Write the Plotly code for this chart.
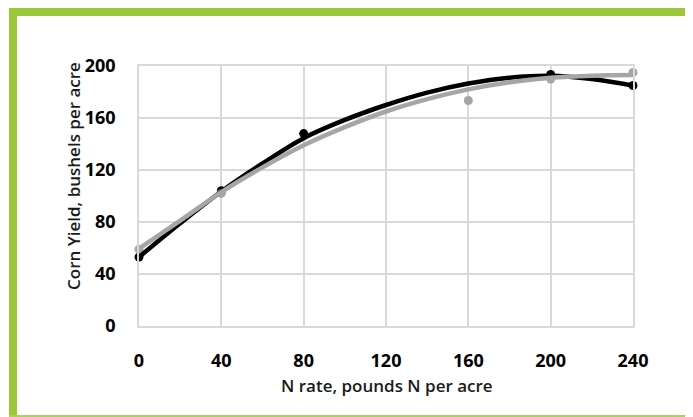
import plotly.graph_objects as go

# Observed (visible) data points
rate_black = [0, 40, 80, 200, 240]
yield_black = [53, 104, 148, 193.5, 185]
rate_gray = [0, 40, 160, 200, 240]
yield_gray = [59, 102, 173.5, 190, 195]

# Trendline shapes
curve_x = [0, 20, 40, 60, 80, 100, 120, 140, 160, 180, 200, 220, 240]
curve_black = [53, 79, 103.5, 125, 144.5, 158.5, 170, 179.5, 186.5, 191, 192.5, 190, 185]
curve_gray = [59.5, 81, 103, 122, 139, 153, 165, 174.5, 182, 187.5, 191, 192.5, 193]

x_ticks = [0, 40, 80, 120, 160, 200, 240]
y_ticks = [0, 40, 80, 120, 160, 200]

BLACK = "#000000"
GRAY = "#a6a6a6"
GREEN = "#9bc93b"
GREEN_THIN = "#a9d35a"
GRID = "#d9d9d9"

OFF = 8  # page body margin
W, H = 693 - OFF, 417 - OFF
L, R, T, B = 139 - OFF, 633 - OFF, 66 - OFF, 326 - OFF

def px(x):  # page pixel -> paper
    return (x - OFF - L) / (R - L)

def py(y):
    return (B - (y - OFF)) / (B - T)

fig = go.Figure()
fig.add_trace(go.Scatter(x=rate_black, y=yield_black, mode="markers",
                         marker=dict(color=BLACK, size=9), cliponaxis=False, showlegend=False))
fig.add_trace(go.Scatter(x=rate_gray, y=yield_gray, mode="markers",
                         marker=dict(color=GRAY, size=9), cliponaxis=False, showlegend=False))
fig.add_trace(go.Scatter(x=curve_x, y=curve_black, mode="lines", line=dict(color=BLACK, width=4.5, shape="spline"),
                         cliponaxis=False, showlegend=False))
fig.add_trace(go.Scatter(x=curve_x, y=curve_gray, mode="lines", line=dict(color=GRAY, width=4.5, shape="spline"),
                         cliponaxis=False, showlegend=False))

tickfont = dict(family="Open Sans", size=18, color="#000000", weight="bold")
titlefont = dict(family="Open Sans", size=17, color="#1a1a1a", weight=600)

fig.update_xaxes(range=[0, 240], tickvals=x_ticks, showgrid=True, gridcolor=GRID, gridwidth=1.5,
                 showline=True, linecolor=GRID, linewidth=1.5, mirror=True, zeroline=False,
                 ticks="", ticklabelstandoff=18, tickfont=tickfont, fixedrange=True)
fig.update_yaxes(range=[0, 200], tickvals=y_ticks, showgrid=True, gridcolor=GRID, gridwidth=1.5,
                 showline=True, linecolor=GRID, linewidth=1.5, mirror=True, zeroline=False,
                 ticks="", ticklabelstandoff=18, tickfont=tickfont, fixedrange=True)

fig.add_annotation(text="N rate, pounds N per acre", xref="paper", yref="paper",
                   x=px(387), y=py(385), showarrow=False, font=titlefont,
                   xanchor="center", yanchor="middle")
fig.add_annotation(text="Corn Yield, bushels per acre", xref="paper", yref="paper",
                   x=px(73), y=py(176), showarrow=False, font=titlefont, textangle=-90,
                   xanchor="center", yanchor="middle")

shapes = [
    dict(type="rect", xref="paper", yref="paper", x0=px(9), x1=px(693), y0=py(16), y1=py(8),
         fillcolor=GREEN, line=dict(width=0), layer="above"),
    dict(type="rect", xref="paper", yref="paper", x0=px(9), x1=px(17), y0=py(417), y1=py(8),
         fillcolor=GREEN, line=dict(width=0), layer="above"),
    dict(type="rect", xref="paper", yref="paper", x0=px(9), x1=px(693), y0=py(417), y1=py(415),
         fillcolor=GREEN_THIN, line=dict(width=0), layer="above"),
    dict(type="rect", xref="paper", yref="paper", x0=px(691), x1=px(693), y0=py(417), y1=py(8),
         fillcolor=GREEN_THIN, line=dict(width=0), layer="above"),
]
fig.update_layout(width=W, height=H, margin=dict(l=L, r=W - R, t=T, b=H - B, autoexpand=False),
                  paper_bgcolor="white", plot_bgcolor="white", shapes=shapes, showlegend=False)

fig.write_html("out.html", config={"displayModeBar": False})
